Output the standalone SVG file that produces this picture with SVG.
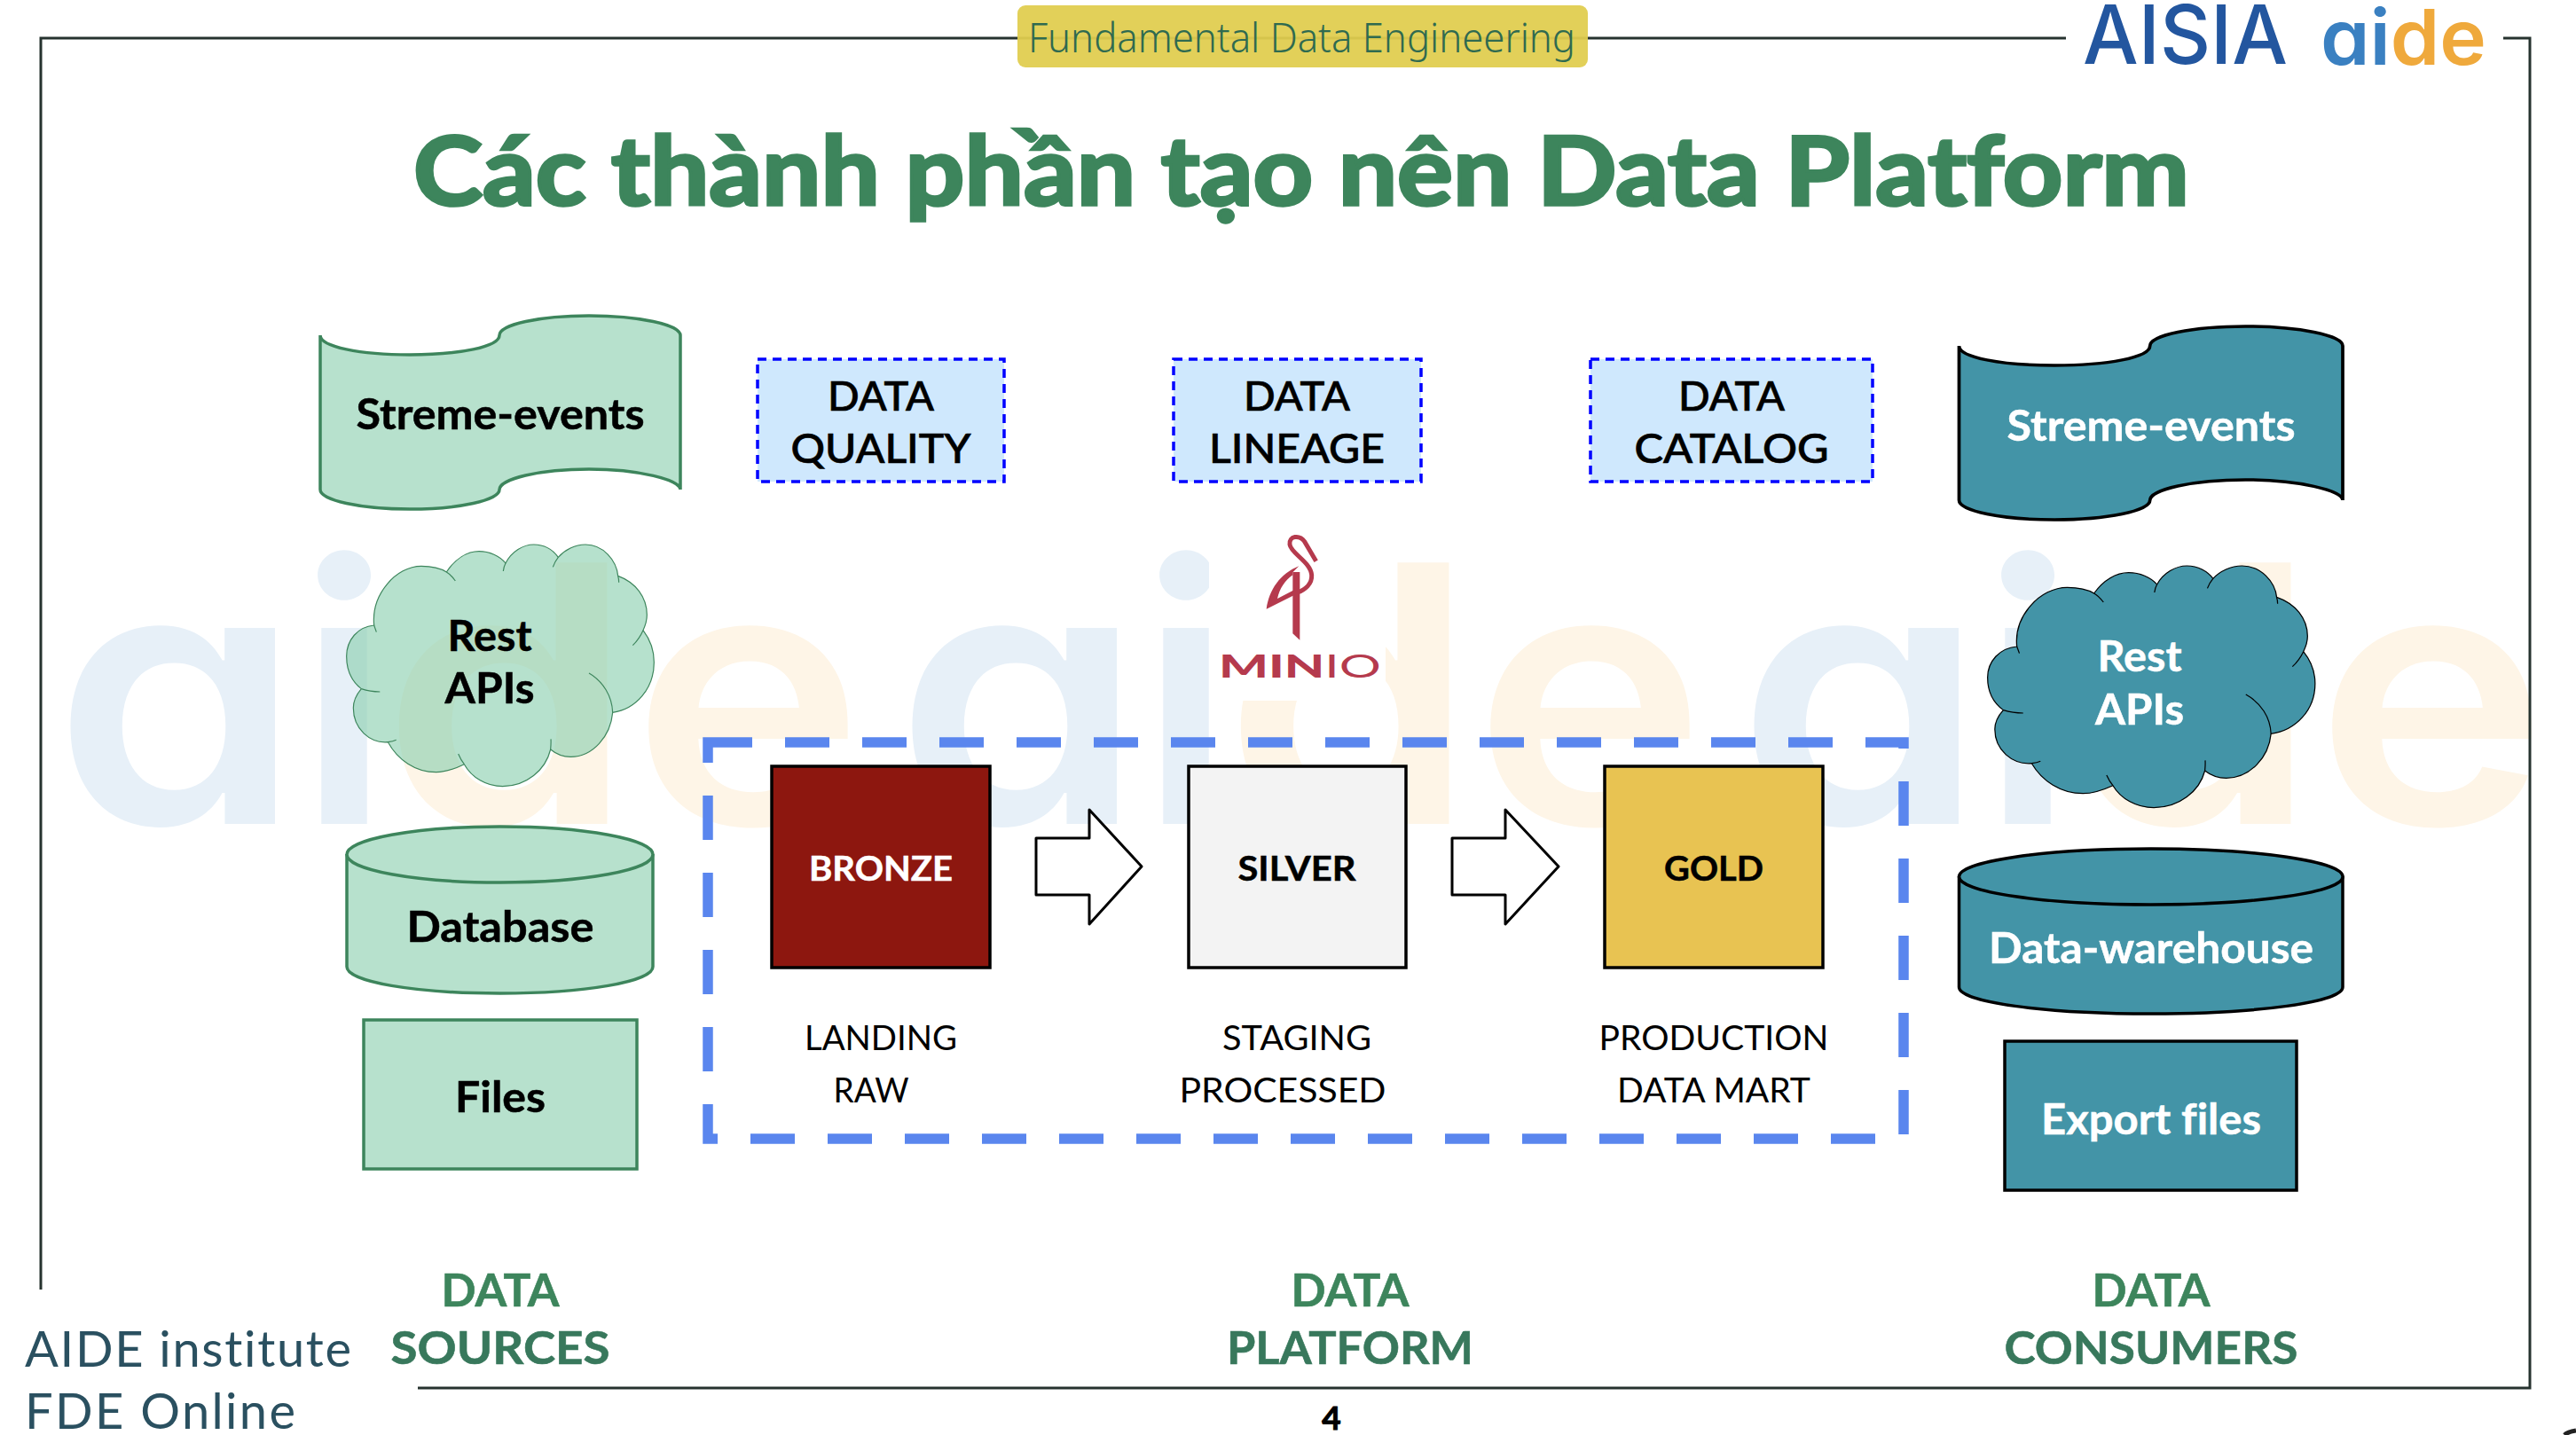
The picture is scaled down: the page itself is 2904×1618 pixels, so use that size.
<svg xmlns="http://www.w3.org/2000/svg" width="2904" height="1618" viewBox="0 0 2904 1618">
<style>
text{font-family:"Lato","Open Sans","Liberation Sans",sans-serif;font-variant-ligatures:none}
.c{text-anchor:middle}
.n{font-size:47px;font-weight:700;fill:#000;stroke:#000;stroke-width:.5}
.w{font-size:47px;font-weight:700;fill:#fff;stroke:#fff;stroke-width:.5}
.d{font-size:46px;font-weight:500;fill:#000;stroke:#000;stroke-width:.7}
.t{font-size:38px;font-weight:700}
.s{font-size:38px;font-weight:400;fill:#000}
.h{font-size:51px;font-weight:700;fill:#3d855c;stroke:#3d855c;stroke-width:.6}
.h2{fill:#38785c;stroke:#38785c}
.g{fill:#b7e1cd;stroke:#3d855c;stroke-width:3.5}
.b{fill:#4394a7;stroke:#000;stroke-width:3.5}
.dq{fill:#cfe8fd;stroke:#0000ff;stroke-width:3.5;stroke-dasharray:10 7}
.frame{fill:none;stroke:#26332f;stroke-width:3}
.wm{font-family:"Inter","Liberation Sans",sans-serif;font-size:405px;font-weight:600;font-feature-settings:"cv11" 1}
.bl{fill:#e7f0f8}
.or{fill:#fef5e7}
.cl{vector-effect:non-scaling-stroke;stroke-width:3.5;stroke-linejoin:round}
.ar{fill:#fff;stroke:#000;stroke-width:3;stroke-linejoin:round}
.box{stroke:#000;stroke-width:3.5}
</style>
<defs>
<path id="tape" d="M0 22C0 35 45 44 101 44C157 44 202 35 202 22C202 10 247 0 303 0C359 0 406 10 406 22V196C406 185 359 173 303 173C247 173 202 184 202 196C202 208 157 218 101 218C45 218 0 208 0 196Z"/>
<path id="cloud" d="M185 345C175 240 260 145 345 145C380 145 410 152 430 165C460 120 500 95 540 95C575 95 610 110 630 135C650 95 690 72 725 72C760 72 790 90 808 115C830 90 865 72 900 72C960 72 1005 125 1010 178C1070 200 1108 250 1108 310C1108 330 1103 345 1095 362C1120 395 1132 430 1132 470C1132 560 1070 630 992 640C985 720 925 790 850 790C825 790 800 780 782 765C765 835 700 890 620 890C565 890 515 860 490 815C455 832 425 842 395 842C325 842 265 800 232 740C170 745 115 695 115 625C115 600 125 580 142 560C110 535 92 495 92 450C92 395 130 350 185 345Z"/>
<path id="hooks" fill="none" d="M185 345L193 368M430 165C442 172 452 184 460 195M630 135C625 144 623 153 622 162M808 115C800 125 794 136 790 148M1010 178C1012 185 1013 192 1013 200M1095 362C1087 380 1075 398 1060 413M992 640C990 585 960 535 912 507M782 765C783 753 784 742 783 730M490 815C482 805 475 792 470 780M232 740C242 739 252 737 260 733M142 560C160 566 183 570 205 570"/>
</defs>
<rect width="2904" height="1618" fill="#fff"/>

<g id="watermark">
<text class="wm bl" y="929" x="60" textLength="280" lengthAdjust="spacingAndGlyphs">a</text><text class="wm bl" y="929" x="335">i</text><text class="wm or" y="929" x="430" textLength="285" lengthAdjust="spacingAndGlyphs">d</text><text class="wm or" y="929" x="712" textLength="262" lengthAdjust="spacingAndGlyphs">e</text>
<text class="wm bl" y="929" x="1009" textLength="280" lengthAdjust="spacingAndGlyphs">a</text><text class="wm bl" y="929" x="1284">i</text><text class="wm or" y="929" x="1379" textLength="285" lengthAdjust="spacingAndGlyphs">d</text><text class="wm or" y="929" x="1661" textLength="262" lengthAdjust="spacingAndGlyphs">e</text>
<text class="wm bl" y="929" x="1958" textLength="280" lengthAdjust="spacingAndGlyphs">a</text><text class="wm bl" y="929" x="2233">i</text><text class="wm or" y="929" x="2328" textLength="285" lengthAdjust="spacingAndGlyphs">d</text><text class="wm or" y="929" x="2610" textLength="262" lengthAdjust="spacingAndGlyphs">e</text>
</g>

<g id="frame">
<path class="frame" d="M46 1454V43H2329M2822 43H2852V1565H471"/>
</g>
<g id="chip">
<rect x="1147" y="6" width="643" height="70" rx="9" fill="#e0cd4f" fill-opacity=".94"/>
<text x="1159" y="59" font-size="46" fill="#2f6a50" textLength="617" lengthAdjust="spacingAndGlyphs" style="font-family:'Noto Sans','Lato',sans-serif;font-weight:300">Fundamental Data Engineering</text>
</g>
<g id="logo-aisia">
<text x="2348" y="72" font-size="92" font-weight="500" fill="#23569f" textLength="231" lengthAdjust="spacingAndGlyphs" style="font-family:'Inter',sans-serif">AISIA</text>
<text x="2616" y="73" font-size="86" font-weight="600" textLength="187" lengthAdjust="spacingAndGlyphs" style="font-family:'Inter',sans-serif;font-feature-settings:'cv11' 1"><tspan fill="#3a80c1">ai</tspan><tspan fill="#efa93c">de</tspan></text>
</g>
<text id="title" x="466" y="231" font-size="107" font-weight="700" fill="#3d855c" stroke="#3d855c" stroke-width="3.500" textLength="2002" lengthAdjust="spacingAndGlyphs">Các thành phần tạo nên Data Platform</text>

<g id="src-stream"><use href="#tape" x="361" y="356" class="g"/><text class="n c" x="564" y="484" textLength="325" lengthAdjust="spacingAndGlyphs">Streme-events</text></g>
<g id="src-rest">
<g transform="translate(360 590) scale(.33333)"><use href="#cloud" fill="#89ceae" fill-opacity=".62" stroke="#3d855c" class="cl"/><use href="#hooks" stroke="#3d855c" class="cl"/></g>
<text class="n c" x="552" y="734" textLength="95" lengthAdjust="spacingAndGlyphs">Rest</text><text class="n c" x="552" y="793" textLength="101" lengthAdjust="spacingAndGlyphs">APIs</text>
</g>
<g id="src-db">
<path class="g" d="M391 963V1090C391 1107 468 1120 563.500 1120C659 1120 736 1107 736 1090V963"/>
<ellipse class="g" cx="563.500" cy="963.500" rx="172.500" ry="31.500"/>
<text class="n c" x="564" y="1062" textLength="211" lengthAdjust="spacingAndGlyphs">Database</text>
</g>
<g id="src-files"><rect class="g" x="410" y="1150" width="308" height="168"/><text class="n c" x="564" y="1254" textLength="102" lengthAdjust="spacingAndGlyphs">Files</text></g>

<g id="data-quality"><rect class="dq" x="854" y="405" width="278" height="138"/><text class="d c" x="993" y="463" textLength="120" lengthAdjust="spacingAndGlyphs">DATA</text><text class="d c" x="993" y="522" textLength="203" lengthAdjust="spacingAndGlyphs">QUALITY</text></g>
<g id="data-lineage"><rect class="dq" x="1323" y="405" width="279" height="138"/><text class="d c" x="1462" y="463" textLength="120" lengthAdjust="spacingAndGlyphs">DATA</text><text class="d c" x="1462" y="522" textLength="198" lengthAdjust="spacingAndGlyphs">LINEAGE</text></g>
<g id="data-catalog"><rect class="dq" x="1793" y="405" width="318" height="138"/><text class="d c" x="1952" y="463" textLength="120" lengthAdjust="spacingAndGlyphs">DATA</text><text class="d c" x="1952" y="522" textLength="219" lengthAdjust="spacingAndGlyphs">CATALOG</text></g>

<g id="minio">
<rect x="1363" y="590" width="199" height="200" fill="#fff"/>
<g transform="translate(1300 580) scale(.33333)" fill="#b53a4d">
<path fill="none" stroke="#b53a4d" stroke-width="15" d="M551 158L512 92C495 68 458 72 462 102C466 132 532 160 536 205C538 236 512 255 488 264"/>
<path fill-rule="evenodd" d="M493 175C430 200 392 255 383 320L495 264V250L472 258V196ZM472 205V258L420 285C428 250 445 225 472 205Z"/>
<path d="M472 195H496V425L472 403Z"/>
</g>
<text x="1374" y="764" font-size="36" fill="#b53a4d" textLength="183" lengthAdjust="spacingAndGlyphs" style="font-weight:900"><tspan>MIN</tspan><tspan style="font-weight:400">IO</tspan></text>
</g>

<rect id="platform-boundary" x="798" y="837" width="1348" height="447" fill="none" stroke="#5a86ee" stroke-width="11.500" stroke-dasharray="50 37"/>

<g id="bronze"><rect class="box" x="870" y="864" width="246" height="227" fill="#8d170f"/><text class="t c" x="993" y="993" fill="#fff" stroke="#fff" stroke-width=".5" textLength="162" lengthAdjust="spacingAndGlyphs">BRONZE</text></g>
<g id="silver"><rect class="box" x="1340" y="864" width="245" height="227" fill="#f3f3f3"/><text class="t c" x="1462" y="993" fill="#000" stroke="#000" stroke-width=".5" textLength="133" lengthAdjust="spacingAndGlyphs">SILVER</text></g>
<g id="gold"><rect class="box" x="1809" y="864" width="246" height="227" fill="#e8c352"/><text class="t c" x="1932" y="993" fill="#000" stroke="#000" stroke-width=".5" textLength="112" lengthAdjust="spacingAndGlyphs">GOLD</text></g>

<g id="connectors">
<path class="ar" d="M1168 945H1228V913L1287 977L1228 1042V1009H1168Z"/>
<path class="ar" d="M1637 945H1697V913L1757 977L1697 1042V1009H1637Z"/>
</g>

<g id="layer-notes">
<text class="s c" x="993" y="1184" textLength="172" lengthAdjust="spacingAndGlyphs">LANDING</text><text class="s c" x="982" y="1243" textLength="85" lengthAdjust="spacingAndGlyphs">RAW</text>
<text class="s c" x="1462" y="1184" textLength="168" lengthAdjust="spacingAndGlyphs">STAGING</text><text class="s c" x="1446" y="1243" textLength="233" lengthAdjust="spacingAndGlyphs">PROCESSED</text>
<text class="s c" x="1932" y="1184" textLength="259" lengthAdjust="spacingAndGlyphs">PRODUCTION</text><text class="s c" x="1932" y="1243" textLength="218" lengthAdjust="spacingAndGlyphs">DATA MART</text>
</g>

<g id="dst-stream"><use href="#tape" transform="translate(2208.500 368) scale(1.0653 1)" class="b"/><text class="w c" x="2425" y="497" textLength="325" lengthAdjust="spacingAndGlyphs">Streme-events</text></g>
<g id="dst-rest">
<g transform="translate(2208 614) scale(.355 .33333)"><use href="#cloud" fill="#4394a7" stroke="#000" class="cl"/><use href="#hooks" stroke="#000" class="cl"/></g>
<text class="w c" x="2412" y="757" textLength="95" lengthAdjust="spacingAndGlyphs">Rest</text><text class="w c" x="2412" y="817" textLength="100" lengthAdjust="spacingAndGlyphs">APIs</text>
</g>
<g id="dst-dw">
<path class="b" d="M2208.500 988V1113C2208.500 1130 2305 1143 2425 1143C2545 1143 2641 1130 2641 1113V988"/>
<ellipse class="b" cx="2424.800" cy="988.500" rx="216.300" ry="31.500"/>
<text class="w c" x="2425" y="1086" textLength="366" lengthAdjust="spacingAndGlyphs">Data-warehouse</text>
</g>
<g id="dst-export"><rect class="b" x="2260" y="1174" width="329" height="168"/><text class="w c" x="2425" y="1279" textLength="248" lengthAdjust="spacingAndGlyphs">Export files</text></g>

<g id="section-labels">
<text class="h c" x="564" y="1473" textLength="133" lengthAdjust="spacingAndGlyphs">DATA</text><text class="h h2 c" x="564" y="1538" textLength="247" lengthAdjust="spacingAndGlyphs">SOURCES</text>
<text class="h c" x="1522" y="1473" textLength="133" lengthAdjust="spacingAndGlyphs">DATA</text><text class="h h2 c" x="1522" y="1538" textLength="278" lengthAdjust="spacingAndGlyphs">PLATFORM</text>
<text class="h c" x="2425" y="1473" textLength="133" lengthAdjust="spacingAndGlyphs">DATA</text><text class="h h2 c" x="2425" y="1538" textLength="331" lengthAdjust="spacingAndGlyphs">CONSUMERS</text>
</g>
<g id="footer">
<text x="28" y="1541" font-size="56" fill="#2a5060" textLength="368" lengthAdjust="spacing">AIDE institute</text>
<text x="28" y="1611" font-size="56" fill="#2a5060" textLength="305" lengthAdjust="spacing">FDE Online</text>
<text x="1501" y="1612" font-size="37" font-weight="700" fill="#000" stroke="#000" text-anchor="middle">4</text>
<path d="M2891 1618C2894 1615 2898 1614 2904 1613" fill="none" stroke="#222" stroke-width="5"/>
</g>
</svg>
